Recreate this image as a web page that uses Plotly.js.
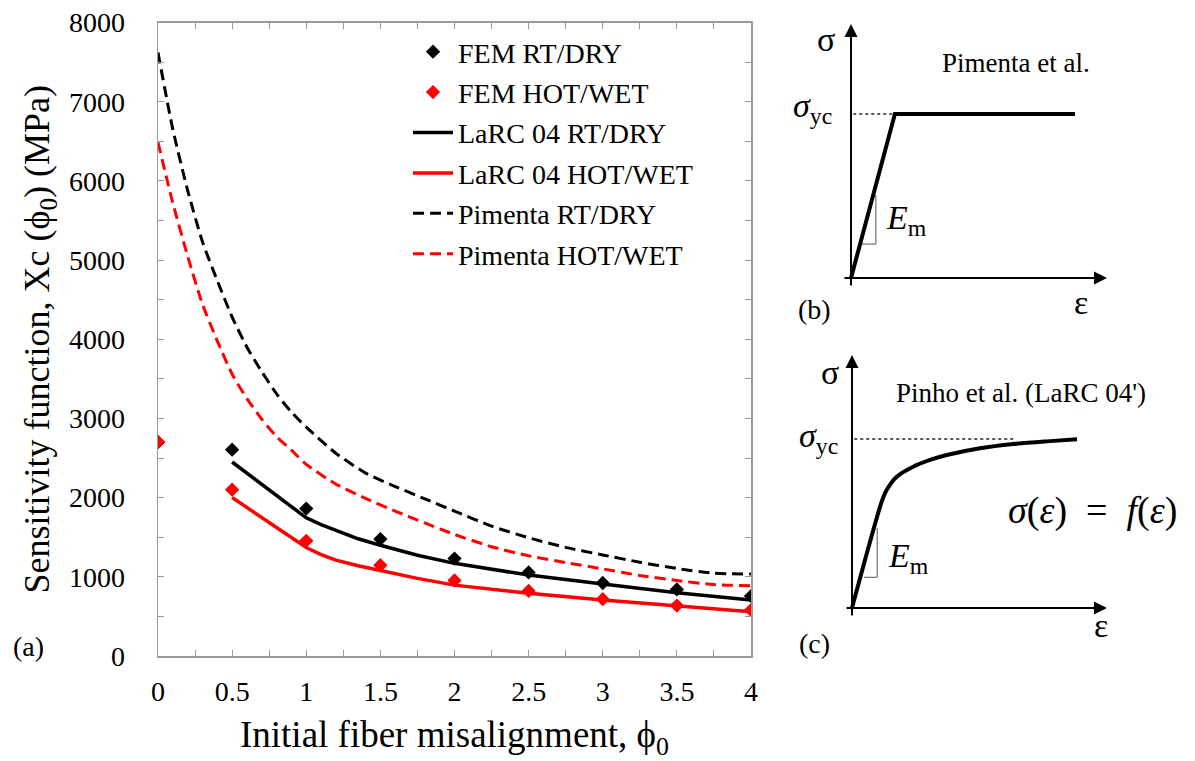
<!DOCTYPE html>
<html><head><meta charset="utf-8">
<script src="https://cdn.plot.ly/plotly-3.0.1.min.js"></script>
<style>html,body{margin:0;padding:0;background:#fff}#chart{width:1195px;height:761px}</style>
</head><body><div id="chart"></div>
<script>
// ---- main chart data (a) ----
const femPhi = [0, 0.5, 1, 1.5, 2, 2.5, 3, 3.5, 4];
const femRtDry = [2700, 2606, 1862, 1477, 1230, 1055, 922, 841, 757];
const femHotWet = [2703, 2100, 1454, 1146, 955, 822, 717, 637, 580];

const larcPhi = [0.5, 1.0, 1.1, 1.2, 1.35, 1.5, 1.75, 2.0, 2.5, 3.0, 3.5, 4.0];
const larcRtDry = [2450, 1745, 1660, 1589, 1480, 1398, 1272, 1170, 1022, 908, 799, 707];
const larcHotWet = [2001, 1370, 1280, 1210, 1140, 1080, 980, 895, 791, 707, 631, 559];

const pimentaPhi = [0, 0.1, 0.2, 0.3, 0.4, 0.5, 0.6, 0.7, 0.8, 0.9, 1.0, 1.2, 1.4, 1.6, 1.8, 2.0, 2.25, 2.5, 2.75, 3.0, 3.25, 3.5, 3.75, 4.0];
const pimentaRtDry = [7620, 6650, 5880, 5230, 4740, 4280, 3900, 3590, 3310, 3080, 2890, 2560, 2310, 2140, 1985, 1830, 1640, 1493, 1372, 1276, 1184, 1105, 1045, 1034];
const pimentaHotWet = [6486, 5720, 5050, 4440, 3980, 3560, 3250, 2990, 2770, 2600, 2420, 2170, 1990, 1830, 1680, 1535, 1380, 1265, 1180, 1100, 1017, 953, 902, 887];

const seriesNames = ['FEM RT/DRY', 'FEM HOT/WET', 'LaRC 04 RT/DRY', 'LaRC 04 HOT/WET', 'Pimenta RT/DRY', 'Pimenta HOT/WET'];

// ---- schematic data (b) Pimenta: elastic-perfectly plastic, normalised ----
const strainB = [0, 0.196, 1.0];
const stressB = [0, 1, 1];
const yieldLineStrainB = [0.01, 0.196];
const slopeTriStrainB = [0.048, 0.111, 0.111];
const slopeTriStressB = [0.207, 0.207, 0.506];
const axisStrainB = [-0.036, 1.143];
const axisStressB = [-0.055, 1.549];

// ---- schematic data (c) Pinho: nonlinear shear response, normalised ----
const strainC = [0, 0.132, 0.154, 0.199, 0.272, 0.347, 0.421, 0.569, 0.717, 0.865, 1.0];
const stressC = [0, 0.629, 0.698, 0.777, 0.836, 0.876, 0.905, 0.945, 0.970, 0.986, 0.998];
const yieldLineStrainC = [0.01, 0.72];
const slopeTriStrainC = [0.053, 0.112, 0.112];
const slopeTriStressC = [0.182, 0.182, 0.473];
const axisStrainC = [-0.031, 1.133];
const axisStressC = [-0.053, 1.497];

// ---- layout helpers ----
const W = 1195, H = 761;
const PX = x => x / W;
const PY = y => 1 - y / H;
const FONT = '"Liberation Serif", "Times New Roman", serif';
const AX = '#9a9a9a';

const traces = [
  {x: larcPhi, y: larcRtDry, name: seriesNames[2], legendrank: 3, legendgroup: 'g3', mode: 'lines', line: {color: '#000', width: 3.5}},
  {x: larcPhi, y: larcHotWet, name: seriesNames[3], legendrank: 4, legendgroup: 'g4', mode: 'lines', line: {color: '#ff0000', width: 3.5}},
  {x: pimentaPhi, y: pimentaRtDry, name: seriesNames[4], legendrank: 5, legendgroup: 'g5', mode: 'lines', line: {color: '#000', width: 3, dash: '11px,6px', shape: 'spline', smoothing: 0.6}},
  {x: pimentaPhi, y: pimentaHotWet, name: seriesNames[5], legendrank: 6, legendgroup: 'g6', mode: 'lines', line: {color: '#ff0000', width: 3, dash: '11px,6px', shape: 'spline', smoothing: 0.6}},
  {x: femPhi, y: femRtDry, name: seriesNames[0], legendrank: 1, legendgroup: 'g1', mode: 'markers', marker: {symbol: 'diamond', color: '#000', size: 11}},
  {x: femPhi, y: femHotWet, name: seriesNames[1], legendrank: 2, legendgroup: 'g2', mode: 'markers', marker: {symbol: 'diamond', color: '#ff0000', size: 11}},
  // panel (b)
  {x: yieldLineStrainB, y: [1, 1], xaxis: 'x2', yaxis: 'y2', mode: 'lines', showlegend: false, hoverinfo: 'skip', line: {color: '#222', width: 1.5, dash: 'dot'}},
  {x: slopeTriStrainB, y: slopeTriStressB, xaxis: 'x2', yaxis: 'y2', mode: 'lines', showlegend: false, hoverinfo: 'skip', line: {color: '#555', width: 1}},
  {x: strainB, y: stressB, xaxis: 'x2', yaxis: 'y2', mode: 'lines', showlegend: false, hoverinfo: 'skip', line: {color: '#000', width: 4}},
  // panel (c)
  {x: yieldLineStrainC, y: [1, 1], xaxis: 'x3', yaxis: 'y3', mode: 'lines', showlegend: false, hoverinfo: 'skip', line: {color: '#222', width: 1.5, dash: 'dot'}},
  {x: slopeTriStrainC, y: slopeTriStressC, xaxis: 'x3', yaxis: 'y3', mode: 'lines', showlegend: false, hoverinfo: 'skip', line: {color: '#555', width: 1}},
  {x: strainC, y: stressC, xaxis: 'x3', yaxis: 'y3', mode: 'lines', showlegend: false, hoverinfo: 'skip', line: {color: '#000', width: 4, shape: 'spline', smoothing: 0.8}}
];

const mainAxis = {
  showline: true, linecolor: AX, linewidth: 1.5, mirror: 'allticks',
  ticks: 'inside', ticklen: 6, tickcolor: AX, tickwidth: 1,
  showgrid: false, zeroline: false,
  tickfont: {family: FONT, size: 28, color: '#000'}
};

function arrow(xref, yref, x, y, ax, ay) {
  return {xref, yref, axref: xref, ayref: yref, x, y, ax, ay, text: '', showarrow: true,
    arrowhead: 2, arrowsize: 1.3, arrowwidth: 2, arrowcolor: '#000', standoff: 0, startstandoff: 0};
}
function label(text, x, y, size, extra) {
  return Object.assign({xref: 'paper', yref: 'paper', x: PX(x), y: PY(y), text, showarrow: false,
    xanchor: 'center', yanchor: 'middle', font: {family: FONT, size, color: '#000'}}, extra || {});
}

const layout = {
  width: W, height: H,
  margin: {l: 0, r: 0, t: 0, b: 0},
  paper_bgcolor: '#fff', plot_bgcolor: '#fff',
  font: {family: FONT, color: '#000'},
  showlegend: true,
  legend: {x: PX(408), y: PY(27), xanchor: 'left', yanchor: 'top', bgcolor: 'rgba(0,0,0,0)',
    traceorder: 'grouped', tracegroupgap: 1,
    font: {family: FONT, size: 28, color: '#000'}, itemwidth: 40},
  xaxis: Object.assign({}, mainAxis, {
    domain: [PX(158), PX(751)], range: [0, 4], dtick: 0.5, tick0: 0,
    minor: {dtick: 0.25, ticks: 'inside', ticklen: 6, tickcolor: AX},
    ticklabelstandoff: 10,
    title: {text: 'Initial fiber misalignment, ϕ<sub>0</sub>', font: {family: FONT, size: 37, color: '#000'}, standoff: 30}
  }),
  yaxis: Object.assign({}, mainAxis, {
    domain: [PY(656), PY(22.5)], range: [0, 8000], dtick: 1000, tick0: 0,
    minor: {dtick: 500, ticks: 'inside', ticklen: 6, tickcolor: AX},
    ticklabelstandoff: 26,
    title: {text: 'Sensitivity function, Xc (ϕ<sub>0</sub>) (MPa)', font: {family: FONT, size: 36, color: '#000'}, standoff: 8}
  }),
  xaxis2: {domain: [PX(840), PX(1115)], range: [-0.0491, 1.1786], visible: false, anchor: 'y2', fixedrange: true},
  yaxis2: {domain: [PY(290), PY(20)], range: [-0.0732, 1.5732], visible: false, anchor: 'x2', fixedrange: true},
  xaxis3: {domain: [PX(840), PX(1115)], range: [-0.0533, 1.1689], visible: false, anchor: 'y3', fixedrange: true},
  yaxis3: {domain: [PY(622), PY(350)], range: [-0.0828, 1.5266], visible: false, anchor: 'x3', fixedrange: true},
  annotations: [
    arrow('x2', 'y2', axisStrainB[1], 0, axisStrainB[0], 0),
    arrow('x2', 'y2', 0, axisStressB[1], 0, axisStressB[0]),
    arrow('x3', 'y3', axisStrainC[1], 0, axisStrainC[0], 0),
    arrow('x3', 'y3', 0, axisStressC[1], 0, axisStressC[0]),
    label('(a)', 28, 646, 28),
    label('(b)', 815, 310, 28),
    label('(c)', 814, 643, 28),
    label('σ', 826, 40, 34),
    label('ε', 1081, 302, 34),
    label('Pimenta et al.', 1016, 63, 27),
    label('<i>σ</i><sub>yc</sub>', 812, 108, 34),
    label('<i>E</i><sub>m</sub>', 906, 220, 34),
    label('σ', 830, 372, 34),
    label('ε', 1101, 625, 34),
    label("Pinho et al. (LaRC 04')", 1021, 393, 27),
    label('<i>σ</i><sub>yc</sub>', 818, 438, 34),
    label('<i>E</i><sub>m</sub>', 908, 558, 34),
    label('<i>σ</i>(<i>ε</i>)  =  <i>f</i>(<i>ε</i>)', 1092, 510, 38)
  ]
};

Plotly.newPlot('chart', traces, layout, {displayModeBar: false, staticPlot: true});
</script></body></html>
